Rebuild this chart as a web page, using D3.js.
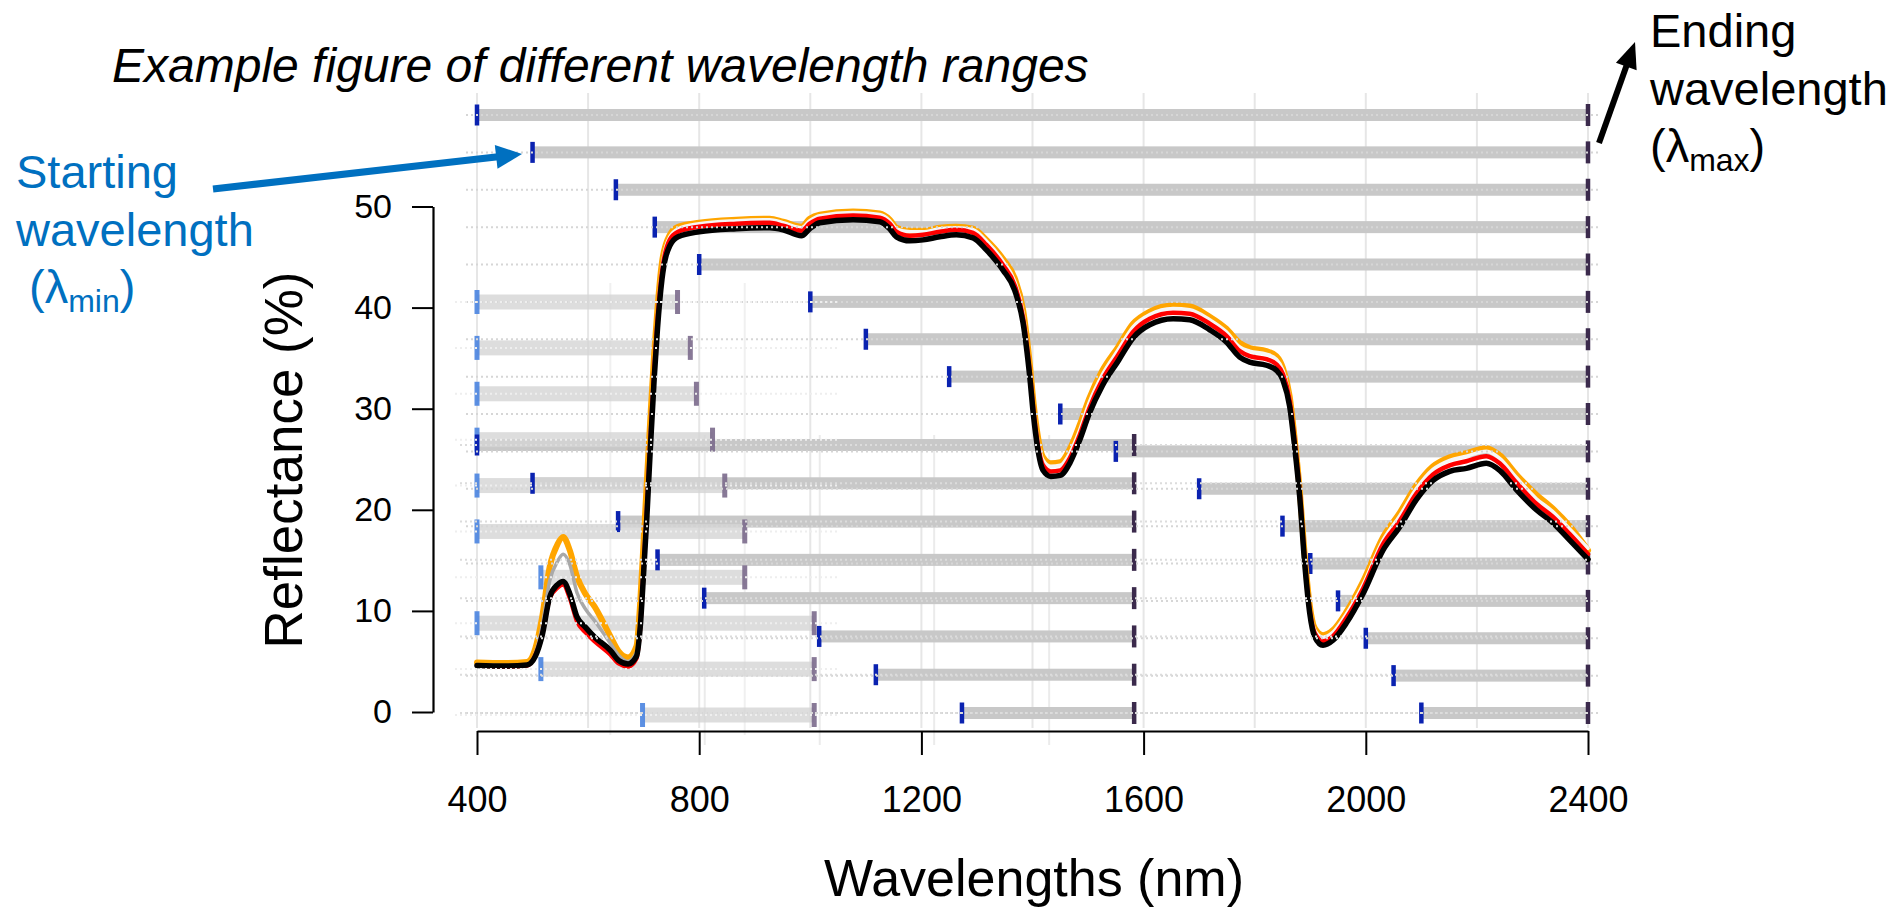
<!DOCTYPE html>
<html><head><meta charset="utf-8">
<script src="https://cdn.jsdelivr.net/npm/d3@7"></script>
<style>body{margin:0;background:#fff;} svg{display:block;font-family:"Liberation Sans",Arial,Helvetica,sans-serif;}</style>
</head><body><svg id="c" width="1893" height="908"></svg>
<script>
// ---------- data ----------
const wavelengths = [400,450,490,505,517,531,545,555,567,580,595,612,640,655,672,687,694,700,706,712,719,725,733,747,762,800,867,927,951,984,999,1017,1077,1125,1143,1155,1179,1203,1233,1263,1293,1317,1347,1368,1383,1395,1402,1409,1419,1433,1450,1467,1485,1502,1526,1554,1581,1611,1653,1683,1719,1749,1773,1791,1821,1839,1851,1863,1872,1881,1890,1899,1908,1923,1941,1965,1995,2031,2061,2091,2121,2151,2181,2217,2241,2271,2307,2337,2367,2400];
const orangeR = [4.9,4.85,4.95,6.3,9.3,14.4,16.6,17.3,16.0,13.4,11.7,10.4,7.5,6.0,5.4,6.5,11.0,17.0,23.0,29.0,35.5,40.0,44.5,47.2,48.0,48.4,48.7,48.8,48.5,48.0,48.8,49.2,49.5,49.3,48.7,47.9,47.6,47.6,47.9,48.0,47.8,46.7,44.8,42.9,39.8,34.5,30.5,27.5,25.2,24.6,24.7,26.0,28.4,31.0,33.8,36.1,38.4,39.6,40.2,40.1,39.1,37.9,36.5,36.0,35.7,35.2,34.0,31.2,27.0,22.0,15.5,10.6,8.3,7.6,8.1,9.9,12.9,17.3,19.7,22.4,24.3,25.2,25.6,26.1,25.4,23.5,21.5,20.1,18.4,16.0];
const greyR = [4.7,4.6,4.7,5.8,8.4,13.0,14.9,15.6,14.6,11.8,10.2,9.0,6.8,5.6,5.0,5.9,9.5,15.5,21.2,27.8,34.6,39.4,44.0,47.0,47.8,48.3,48.6,48.7,48.4,47.9,48.6,49.1,49.4,49.2,48.6,47.8,47.5,47.5,47.8,47.9,47.7,46.6,44.6,42.6,39.5,34.1,30.1,27.1,24.9,24.3,24.4,25.6,27.9,30.6,33.4,35.8,38.1,39.3,39.9,39.8,38.8,37.6,36.1,35.7,35.4,34.9,33.8,31.0,26.9,21.9,15.3,10.4,8.1,7.4,7.9,9.7,12.6,17.0,19.4,22.1,24.0,24.9,25.3,25.8,25.1,23.2,21.1,19.8,18.1,16.2];
const redR = [4.6,4.5,4.6,5.6,7.6,11.3,12.3,12.6,11.3,9.0,7.9,7.0,5.7,4.8,4.5,5.3,8.6,14.2,20.2,26.8,33.8,38.8,43.5,46.7,47.5,48.0,48.3,48.4,48.1,47.6,48.3,48.8,49.1,48.9,48.3,47.5,47.1,47.2,47.5,47.7,47.4,46.2,44.2,42.2,39.0,33.7,29.7,26.7,24.4,23.8,23.9,25.1,27.4,30.0,32.9,35.3,37.6,38.9,39.5,39.4,38.4,37.2,35.7,35.2,34.9,34.4,33.4,30.8,26.7,21.7,15.0,10.1,7.8,7.0,7.5,9.3,12.2,16.6,18.9,21.6,23.5,24.4,24.8,25.3,24.6,22.7,20.6,19.3,17.6,15.6];
const blackR = [4.6,4.55,4.65,5.5,7.5,11.4,12.6,12.9,11.7,9.4,8.4,7.4,6.1,5.1,4.75,5.5,8.5,13.8,19.5,26,33,38,42.8,46.1,47.0,47.5,47.8,47.9,47.7,47.1,47.8,48.4,48.7,48.5,47.8,47.0,46.6,46.7,47.0,47.2,46.9,45.7,43.7,41.7,38.5,33.2,29.2,26.2,23.9,23.3,23.4,24.6,26.9,29.5,32.3,34.7,37.0,38.3,38.9,38.8,37.8,36.6,35.1,34.6,34.3,33.8,32.8,30.2,26.2,21.3,14.7,9.8,7.45,6.6,7.1,8.8,11.7,16.0,18.3,21.0,22.9,23.8,24.1,24.6,23.9,22.0,20.0,18.7,17.0,15.1];

// wavelength ranges (starting / ending wavelength per row)
const mainStart = [400,500,650,720,800,1000,1100,1250,1450,1550,1700,1850,1900,1950,2000,2050,2100];
const mainEnd   = [2400,2400,2400,2400,2400,2400,2400,2400,2400,2400,2400,2400,2400,2400,2400,2400,2400];
const midStart  = [400,500,654,725,809,1016,1118,1273];
const midEnd    = [1583,1583,1583,1583,1583,1583,1583,1583];
const leftStart = [400,400,400,400,400,400,515,400,515,698];
const leftEnd   = [761,784,795,824,846,882,882,1007,1007,1007];

const xTicks = [400,800,1200,1600,2000,2400];
const yTicks = [0,10,20,30,40,50];
const gridNm = [400,600,800,1000,1200,1400,1600,1800,2000,2200,2400];
const leftPanelGridNm = [640,882];
const midPanelGridNm = [810,1017,1223,1430];

// ---------- scales ----------
const svg = d3.select("#c");
const x = d3.scaleLinear().domain([400,2400]).range([477,1588]);
const y = d3.scaleLinear().domain([0,50]).range([712,206.5]);
const rowMain = d3.scalePoint().domain(d3.range(mainStart.length)).range([115,713]);
const rowMid  = d3.scalePoint().domain(d3.range(midStart.length)).range([445,713]);
const rowLeft = d3.scalePoint().domain(d3.range(leftStart.length)).range([302,715]);

// ---------- gridlines ----------
const g = svg.append("g");
g.selectAll(".vg").data(gridNm).join("line")
  .attr("x1",d=>x(d)).attr("x2",d=>x(d)).attr("y1",93).attr("y2",728)
  .attr("stroke","#e6e6e6").attr("stroke-width",2);
g.selectAll(".vgl").data(leftPanelGridNm).join("line")
  .attr("x1",d=>x(d)).attr("x2",d=>x(d)).attr("y1",283).attr("y2",735)
  .attr("stroke","#f0f0f0").attr("stroke-width",2);
g.selectAll(".vgm").data(midPanelGridNm).join("line")
  .attr("x1",d=>x(d)).attr("x2",d=>x(d)).attr("y1",435).attr("y2",745)
  .attr("stroke","#ebebeb").attr("stroke-width",2);

// ---------- range bars ----------
const mainRows = mainStart.map((s,i)=>({s, e:mainEnd[i], y:rowMain(i)}));
const midRows  = midStart.map((s,i)=>({s, e:midEnd[i], y:rowMid(i)}));
const leftRows = leftStart.map((s,i)=>({s, e:leftEnd[i], y:rowLeft(i)}));

function bars(rows, h, fill, op){
  g.append("g").selectAll("rect").data(rows).join("rect")
    .attr("x",d=>x(d.s)).attr("width",d=>x(d.e)-x(d.s))
    .attr("y",d=>d.y-h/2).attr("height",h)
    .attr("fill",fill).attr("opacity",op);
}
function marks(rows, key, h, w, col, op){
  g.append("g").selectAll("rect").data(rows).join("rect")
    .attr("x",d=>x(d[key])-w/2).attr("width",w)
    .attr("y",d=>d.y-h/2).attr("height",h)
    .attr("fill",col).attr("opacity",op);
}
bars(mainRows,12,"#c8c8c8",1);
bars(midRows,12,"#c8c8c8",1);
bars(leftRows,15,"#d4d4d4",0.8);
marks(leftRows,"s",24,5,"#4a84e0",0.9);
marks(leftRows,"e",24,5,"#7b6a8c",0.9);
marks(mainRows,"s",21,4.5,"#0a22b0",1);
marks(mainRows,"e",22,4.5,"#3b2a4c",1);
marks(midRows,"s",21,4.5,"#0a22b0",1);
marks(midRows,"e",22,4.5,"#3b2a4c",1);

// ---------- spectra ----------
const defs = svg.append("defs");
const grad = defs.append("linearGradient").attr("id","gg")
  .attr("gradientUnits","userSpaceOnUse")
  .attr("x1",x(400)).attr("x2",x(2400)).attr("y1",0).attr("y2",0);
grad.append("stop").attr("offset",0.14).attr("stop-color","#a9a9a9");
grad.append("stop").attr("offset",0.17).attr("stop-color","#f6f6f6");

const line = d3.line().x((d,i)=>x(wavelengths[i])).y(d=>y(d)).curve(d3.curveMonotoneX);
const series = [
  {v:orangeR, c:"#FFA500", w:6},
  {v:greyR,   c:"url(#gg)", w:3.5},
  {v:redR,    c:"#FF0000", w:4.5},
  {v:blackR,  c:"#000000", w:5.5}
];
g.append("g").selectAll("path").data(series).join("path")
  .attr("d",d=>line(d.v)).attr("fill","none")
  .attr("stroke",d=>d.c).attr("stroke-width",d=>d.w)
  .attr("stroke-linejoin","round").attr("stroke-linecap","round");

// ---------- dotted row guides ----------
function dots(rows, x1, x2, col){
  g.append("g").selectAll("line").data(rows).join("line")
    .attr("x1",x1).attr("x2",x2).attr("y1",d=>d.y).attr("y2",d=>d.y)
    .attr("stroke",col).attr("stroke-width",2).attr("stroke-dasharray","2,3");
}
dots(mainRows,466,1601,"#d6d6d6");
dots(midRows,460,1590,"#dcdcdc");
dots(leftRows,455,840,"#eeeeee");

// ---------- axes ----------
const yAxis = svg.append("g").attr("transform","translate(433,0)")
  .call(d3.axisLeft(y).tickValues(yTicks).tickSize(21).tickSizeOuter(0).tickPadding(20));
const xAxis = svg.append("g").attr("transform","translate(0,731)")
  .call(d3.axisBottom(x).tickValues(xTicks).tickSize(24).tickSizeOuter(0).tickPadding(31).tickFormat(d3.format("d")));
[yAxis,xAxis].forEach(a=>{
  a.select(".domain").attr("stroke","#000").attr("stroke-width",2.2);
  a.selectAll(".tick line").attr("stroke","#000").attr("stroke-width",2);
  a.selectAll(".tick text").attr("fill","#000").attr("font-family","'Liberation Sans',Arial,sans-serif");
});
yAxis.selectAll(".tick text").attr("font-size",34);
xAxis.selectAll(".tick text").attr("font-size",36);

svg.append("text").attr("transform","translate(302,460) rotate(-90)")
  .attr("text-anchor","middle").attr("font-size",53).attr("fill","#000").text("Reflectance (%)");
svg.append("text").attr("x",1034).attr("y",896)
  .attr("text-anchor","middle").attr("font-size",52).attr("fill","#000").text("Wavelengths (nm)");

// ---------- title & annotations ----------
svg.append("text").attr("x",112).attr("y",82).attr("font-size",48)
  .attr("font-style","italic").attr("fill","#000")
  .text("Example figure of different wavelength ranges");

const blue = "#0070C0";
function label(x0, y0, lines, col){
  const t = svg.append("g").attr("fill",col);
  lines.forEach((L,i)=>{
    const tx = t.append("text").attr("x",x0 + (L.dx||0)).attr("y",y0 + i*57.5).attr("font-size",47);
    if(L.sub){
      tx.append("tspan").text(L.pre);
      tx.append("tspan").attr("font-size",32).attr("dy",9).text(L.sub);
      tx.append("tspan").attr("dy",-9).text(L.post);
    } else tx.text(L.t);
  });
}
label(16,188,[{t:"Starting"},{t:"wavelength"},{dx:13,pre:"(λ",sub:"min",post:")"}],blue);
label(1650,47,[{t:"Ending"},{t:"wavelength"},{pre:"(λ",sub:"max",post:")"}],"#000");

function arrow(x1,y1,x2,y2,col,w,hl,hw){
  const a = Math.atan2(y2-y1,x2-x1);
  const bx = x2 - hl*Math.cos(a), by = y2 - hl*Math.sin(a);
  svg.append("line").attr("x1",x1).attr("y1",y1).attr("x2",bx+2*Math.cos(a)).attr("y2",by+2*Math.sin(a))
    .attr("stroke",col).attr("stroke-width",w);
  const px = -Math.sin(a)*hw/2, py = Math.cos(a)*hw/2;
  svg.append("polygon").attr("points",`${x2},${y2} ${bx+px},${by+py} ${bx-px},${by-py}`).attr("fill",col);
}
arrow(213,189,522,154,blue,7,26,24);
arrow(1599,143,1635,42,"#000",6,26,22);
</script></body></html>
